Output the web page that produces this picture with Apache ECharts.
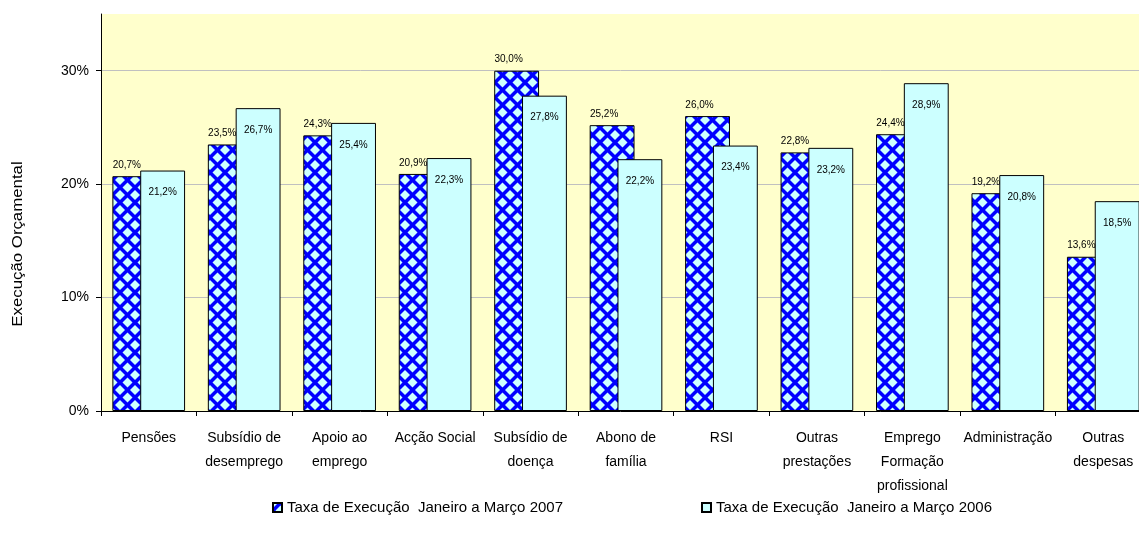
<!DOCTYPE html>
<html>
<head>
<meta charset="utf-8">
<script src="https://cdn.jsdelivr.net/npm/echarts@6/dist/echarts.min.js"></script>
<style>
html,body{margin:0;padding:0;background:#fff;}
#chart{width:1139px;height:538px;}
</style>
</head>
<body>
<div id="chart"></div>
<script>
const categories = ['Pensões', 'Subsídio de\ndesemprego', 'Apoio ao\nemprego', 'Acção Social', 'Subsídio de\ndoença', 'Abono de\nfamília', 'RSI', 'Outras\nprestações', 'Emprego\nFormação\nprofissional', 'Administração', 'Outras\ndespesas'];
const series2007 = [20.7, 23.5, 24.3, 20.9, 30.0, 25.2, 26.0, 22.8, 24.4, 19.2, 13.6];
const series2006 = [21.2, 26.7, 25.4, 22.3, 27.8, 22.2, 23.4, 23.2, 28.9, 20.8, 18.5];
const seriesNames = ['Taxa de Execução  Janeiro a Março 2007', 'Taxa de Execução  Janeiro a Março 2006'];
const yTicks = [0, 10, 20, 30];

const FONT = '"Liberation Sans", Arial, sans-serif';

// diamond checker pattern tile
const tile = document.createElement('canvas');
tile.width = 15; tile.height = 15;
const ctx = tile.getContext('2d');
ctx.fillStyle = '#0000FF';
ctx.fillRect(0, 0, 15, 15);
ctx.fillStyle = '#CCFFFF';
function diamond(cx, cy, r) {
  ctx.beginPath();
  ctx.moveTo(cx, cy - r);
  ctx.lineTo(cx + r, cy);
  ctx.lineTo(cx, cy + r);
  ctx.lineTo(cx - r, cy);
  ctx.closePath();
  ctx.fill();
}
const R = 5;
diamond(7.5, 7.5, R);
diamond(0, 0, R); diamond(15, 0, R); diamond(0, 15, R); diamond(15, 15, R);

const fmt = p => p.value.toFixed(1).replace('.', ',') + '%';

const chart = echarts.init(document.getElementById('chart'), null, {renderer: 'canvas'});
chart.setOption({
  animation: false,
  textStyle: {fontFamily: FONT},
  grid: {left: 101, width: 1050, top: 14, bottom: 127, show: true, backgroundColor: '#FFFFCC', borderWidth: 0, outerBoundsMode: 'none', containLabel: false},
  legend: {
    left: 272, top: 500, padding: 0,
    itemWidth: 9, itemHeight: 9, itemGap: 138,
    icon: 'rect',
    textStyle: {fontSize: 15, color: '#000', fontFamily: FONT},
    data: seriesNames
  },
  graphic: [{
    type: 'text', x: 18, y: 244, rotation: Math.PI / 2, scaleX: 1.2,
    style: {text: 'Execução Orçamental', fontSize: 14, fontFamily: FONT, fill: '#000', align: 'center', verticalAlign: 'middle'}
  }],
  xAxis: {
    type: 'category', data: categories,
    axisLine: {lineStyle: {color: '#000', width: 1}},
    axisTick: {show: true, length: 5, lineStyle: {color: '#000'}},
    axisLabel: {interval: 0, color: '#000', fontSize: 14, lineHeight: 24, margin: 15, fontFamily: FONT}
  },
  yAxis: {
    type: 'value', min: 0, max: 35, interval: 10,
    axisLine: {show: true, lineStyle: {color: '#000', width: 1}},
    axisTick: {show: true, length: 5, lineStyle: {color: '#000'}},
    axisLabel: {color: '#000', fontSize: 14, margin: 12, fontFamily: FONT, showMaxLabel: false,
      formatter: v => (yTicks.indexOf(v) >= 0 ? v + '%' : '')},
    splitLine: {show: true, showMinLine: false, showMaxLine: false,
      lineStyle: {color: ['#C0C0C0', '#C0C0C0', '#C0C0C0', '#C0C0C0', 'rgba(0,0,0,0)'], width: 1}}
  },
  series: [
    {
      name: seriesNames[0], type: 'bar', data: series2007,
      barWidth: '47%', barGap: '-38%',
      itemStyle: {color: {image: tile, repeat: 'repeat'}, borderColor: '#000', borderWidth: 1},
      label: {show: true, position: 'top', distance: 6, offset: [-8, 0], fontSize: 10, color: '#000', fontFamily: FONT, formatter: fmt}
    },
    {
      name: seriesNames[1], type: 'bar', data: series2006,
      barWidth: '47%', barGap: '-38%',
      itemStyle: {color: '#CCFFFF', borderColor: '#000', borderWidth: 1},
      label: {show: true, position: 'insideTop', distance: 17, fontSize: 10, color: '#000', fontFamily: FONT, formatter: fmt}
    }
  ]
});
</script>
</body>
</html>
